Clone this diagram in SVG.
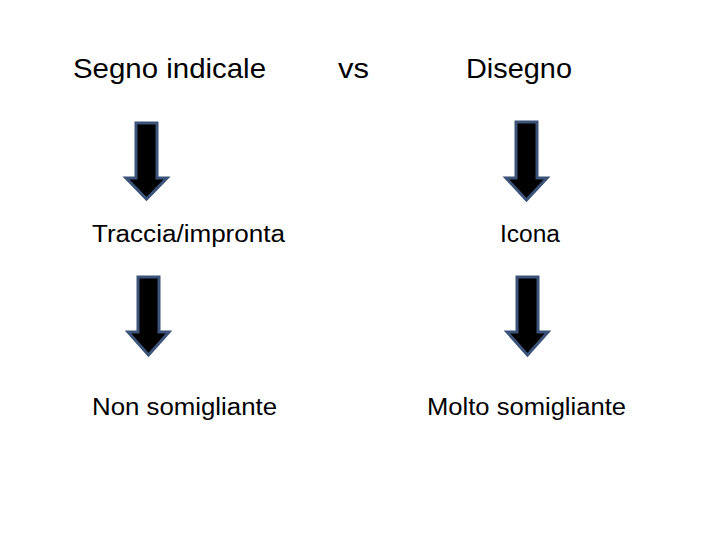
<svg xmlns="http://www.w3.org/2000/svg" width="720" height="540" viewBox="0 0 720 540">
<style>
.t{font-family:"Liberation Sans",Arial,sans-serif;fill:#000}
.h{font-size:28px}
.s{font-size:23px}
.a{fill:#000;stroke:#3b5378;stroke-width:3;stroke-linejoin:miter}
</style>
<rect width="720" height="540" fill="#fff"/>
<g id="segno"><text class="t h" x="73" y="78" textLength="193" lengthAdjust="spacingAndGlyphs">Segno indicale</text></g>
<g id="vs"><text class="t h" x="338" y="78" textLength="31" lengthAdjust="spacingAndGlyphs">vs</text></g>
<g id="disegno"><text class="t h" x="466" y="78" textLength="106" lengthAdjust="spacingAndGlyphs">Disegno</text></g>
<g id="traccia"><text class="t s" x="92" y="242" textLength="193" lengthAdjust="spacingAndGlyphs">Traccia/impronta</text></g>
<g id="icona"><text class="t s" x="500" y="242" textLength="60" lengthAdjust="spacingAndGlyphs">Icona</text></g>
<g id="non"><text class="t s" x="92" y="415" textLength="185" lengthAdjust="spacingAndGlyphs">Non somigliante</text></g>
<g id="molto"><text class="t s" x="427" y="415" textLength="199" lengthAdjust="spacingAndGlyphs">Molto somigliante</text></g>
<g id="connectors">
<polygon class="a" points="136,123 157,123 157,178 167,178 146.5,199 126,178 136,178"/>
<polygon class="a" points="516,122 537,122 537,178 547,178 526.5,200 506,178 516,178"/>
<polygon class="a" points="138,277 159,277 159,332 169,332 148.5,355 128,332 138,332"/>
<polygon class="a" points="517,277 538,277 538,332 548,332 527.5,355 507,332 517,332"/>
</g>
</svg>
